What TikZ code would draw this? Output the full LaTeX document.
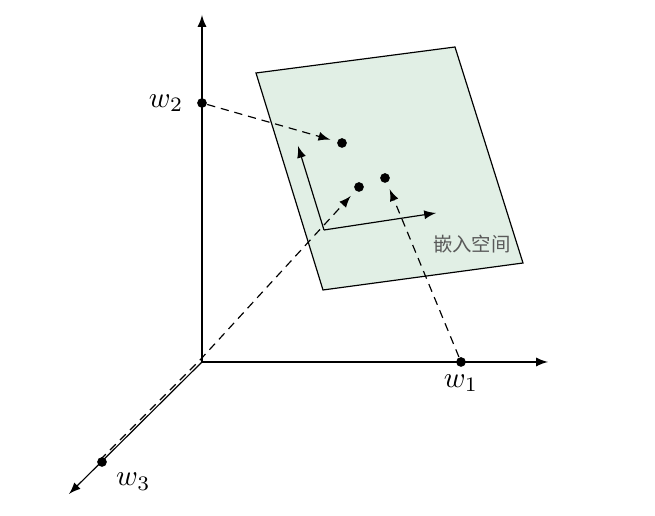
\documentclass[tikz,border=0pt]{standalone}
\usepackage{amsmath,amssymb}
\usepackage{fontspec}
\newfontfamily\cjk{Noto Sans CJK SC}
\usetikzlibrary{arrows,positioning,calc}
\definecolor{planegreen}{RGB}{225,239,229}
\tikzset{
    dot/.style={circle,fill=black,inner sep=0pt,minimum size=3.3pt},
    proj/.style={->,dash pattern=on 2.8pt off 2pt,shorten >=2.3pt}
}

\begin{document}
\begin{tikzpicture}[x=0.34pt,y=-0.34pt,>=latex]
    \useasboundingbox (0,0) rectangle (655,516);
    % embedding plane
    \draw[fill=planegreen] (256,73) -- (455,47) -- (523,263) -- (323,290) -- cycle;
    \coordinate (c) at (324,230);
    \coordinate (u) at (298,146);
    \coordinate (v) at (436,213);
    \draw[->] (c) -- (u);
    \draw[->] (c) -- (v);
    \node[text=black!65,font=\cjk\fontsize{6.6pt}{8pt}\selectfont] (lbl) at (472,244) {嵌入空间};
    % axes
    \coordinate (o) at (202,362);
    \coordinate (ytip) at (202,15);
    \coordinate (xtip) at (548,362);
    \coordinate (ztip) at (69,494);
    \draw[->] (o) -- (ytip);
    \draw[->] (o) -- (xtip);
    \draw[->] (o) -- (ztip);
    % points
    \node[dot] (w1) at (461,362) {};
    \node[dot] (w2) at (202,103) {};
    \node[dot] (w3) at (102,462) {};
    \node[below=-1pt of w1] {$w_1$};
    \node[left=1pt of w2] {$w_2$};
    \node[below right=-1pt and 0pt of w3] {$w_3$};
    \node[dot] (d1) at (342,143) {};
    \node[dot] (d2) at (359,187) {};
    \node[dot] (d3) at (385,178) {};
    % projections
    \draw[proj] (w2) -- (d1);
    \draw[proj] ([shift={(-2,-2)}]w3.center) -- ([shift={(-2,-2)}]o) -- (d2);
    \draw[proj] (w1) -- (d3);
\end{tikzpicture}
\end{document}
